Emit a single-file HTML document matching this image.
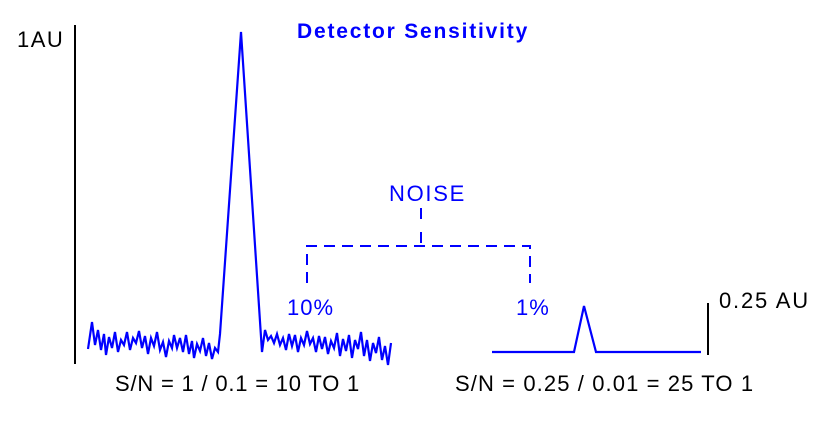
<!DOCTYPE html>
<html><head><meta charset="utf-8"><style>
body{margin:0;background:#fff;width:823px;height:418px;overflow:hidden}
text{font-family:"Liberation Sans",Arial,sans-serif}
</style></head><body>
<svg width="823" height="418" viewBox="0 0 823 418" xmlns="http://www.w3.org/2000/svg">
<rect width="823" height="418" fill="#fff"/>
<text x="297" y="38" fill="#0000ff" font-size="21" font-weight="bold" letter-spacing="1.8">Detector Sensitivity</text>
<text x="17" y="47" fill="#000" font-size="22" letter-spacing="1.5">1AU</text>
<line x1="75" y1="25" x2="75" y2="364" stroke="#000" stroke-width="2"/>
<polyline fill="none" stroke="#0000ff" stroke-width="2.2" stroke-linejoin="miter" points="
88,349 92,322 95,345 98,330 101,350 104,334 106,355 109,337 112,348 115,332 118,352 121,340 124,345 127,332 130,350 133,338 136,343 139,331 142,348 145,336 148,354 151,338 154,346 157,332 160,350 163,342 166,357 169,341 172,348 174,335 177,348 180,338 183,352 186,335 189,354 192,341 194,358 197,344 200,351 203,338 206,356 209,343 212,359 215,348 218,352 220,334 241,32 262,352 265,330 268,340 271,336 274,343 277,334 280,345 283,338 286,350 289,334 292,346 295,335 298,352 301,338 304,345 307,331 310,344 313,338 316,352 319,336 322,349 325,337 328,354 331,341 334,348 337,333 340,356 343,339 346,351 349,335 352,358 355,340 358,349 361,332 364,356 367,340 370,361 373,343 376,353 379,337 382,360 385,346 388,365 391,343"/>
<polyline fill="none" stroke="#0000ff" stroke-width="2.2" points="492,352 574,352 584,306 596,352 701,352"/>
<line x1="708" y1="303" x2="708" y2="355" stroke="#000" stroke-width="2"/>
<text x="719" y="308" fill="#000" font-size="22" letter-spacing="1.8">0.25 AU</text>
<text x="389" y="201" fill="#0000ff" font-size="22" letter-spacing="1.7">NOISE</text>
<g stroke="#0000ff" stroke-width="2" fill="none">
<line x1="421" y1="208" x2="421" y2="246" stroke-dasharray="11,13"/>
<polyline points="307,283 307,246 530,246 530,283" stroke-dasharray="11,7"/>
</g>
<text x="287" y="315" fill="#0000ff" font-size="22" letter-spacing="1">10%</text>
<text x="516" y="315" fill="#0000ff" font-size="22" letter-spacing="1">1%</text>
<text x="115" y="391" fill="#000" font-size="22" letter-spacing="0.8">S/N = 1 / 0.1 = 10 TO 1</text>
<text x="455" y="391" fill="#000" font-size="22" letter-spacing="1.1">S/N = 0.25 / 0.01 = 25 TO 1</text>
</svg>
</body></html>
